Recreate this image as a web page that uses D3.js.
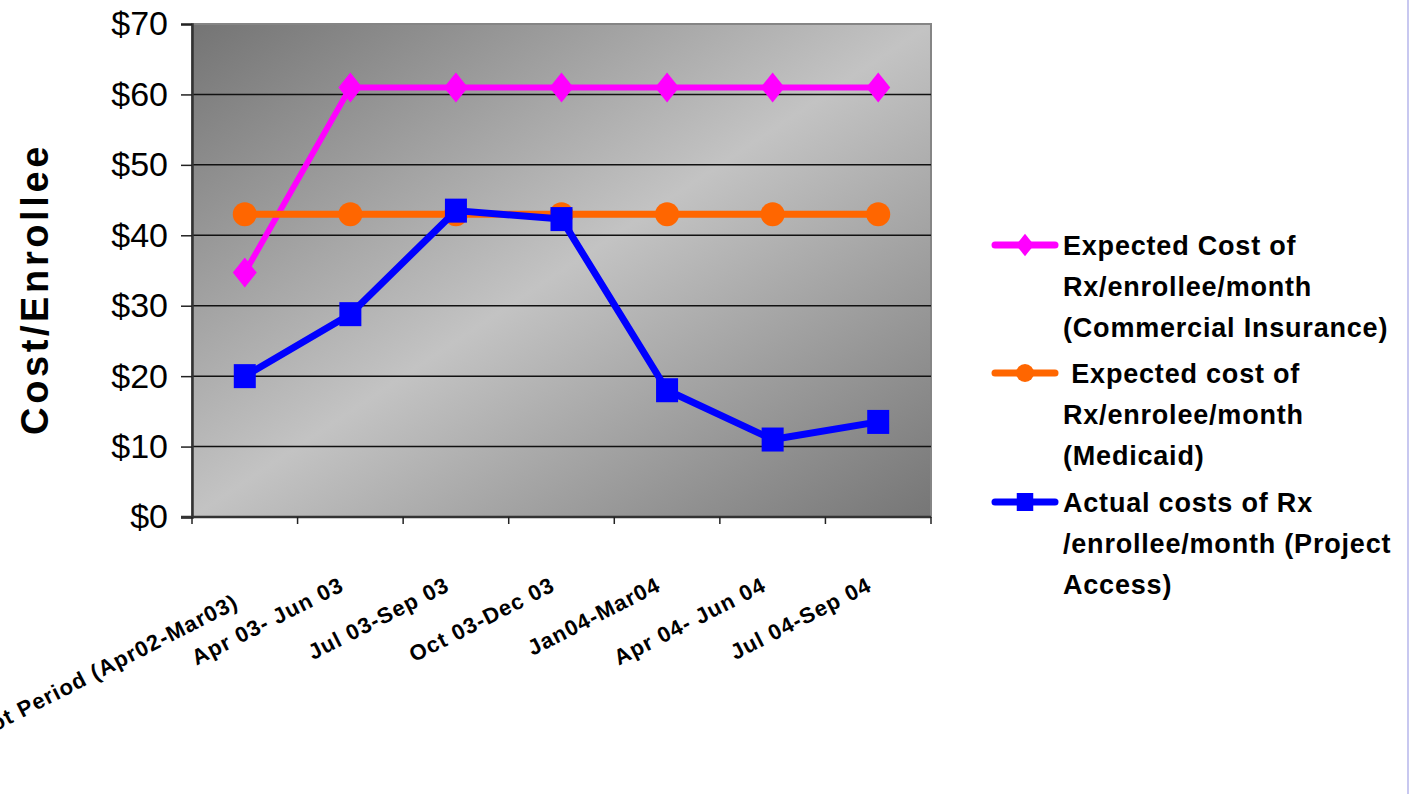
<!DOCTYPE html>
<html>
<head>
<meta charset="utf-8">
<script src="https://cdn.jsdelivr.net/npm/d3@7"></script>
<style>
  html, body { margin: 0; padding: 0; background: #fff; }
  svg { display: block; font-family: "Liberation Sans", Arial, sans-serif; }
</style>
</head>
<body>
<div id="chart"></div>
<script>
// categories (x axis)
var periods = ["Pilot Period (Apr02-Mar03)", "Apr 03- Jun 03", "Jul 03-Sep 03", "Oct 03-Dec 03",
               "Jan04-Mar04", "Apr 04- Jun 04", "Jul 04-Sep 04"];
// series values, $ per enrollee per month
var commercial = [34.7, 61, 61, 61, 61, 61, 61];
var medicaid   = [43, 43, 43, 43, 43, 43, 43];
var actual     = [20, 28.8, 43.5, 42.3, 18, 11, 13.5];
var yTicks = [0, 10, 20, 30, 40, 50, 60, 70];
var legendLabels = [
  ["Expected Cost of", "Rx/enrollee/month", "(Commercial Insurance)"],
  [" Expected cost of", "Rx/enrolee/month", "(Medicaid)"],
  ["Actual costs of Rx", "/enrollee/month (Project", "Access)"]
];

var width = 1410, height = 794;
var plot = {left: 192, top: 24, right: 931, bottom: 517};

var svg = d3.select("#chart").append("svg")
  .attr("width", width).attr("height", height);

// plot background gradient
var grad = svg.append("defs").append("linearGradient")
  .attr("id", "bg").attr("x1", 0).attr("y1", 0).attr("x2", 1).attr("y2", 1);
grad.append("stop").attr("offset", "0%").attr("stop-color", "#747474");
grad.append("stop").attr("offset", "50%").attr("stop-color", "#c3c3c3");
grad.append("stop").attr("offset", "100%").attr("stop-color", "#767676");

var x = d3.scaleBand().domain(periods).range([plot.left, plot.right]);
var y = d3.scaleLinear().domain([0, 70]).range([plot.bottom, plot.top]);

svg.append("rect")
  .attr("x", plot.left).attr("y", plot.top)
  .attr("width", plot.right - plot.left).attr("height", plot.bottom - plot.top)
  .attr("fill", "url(#bg)")
  .attr("stroke", "#858585").attr("stroke-width", 2);

// gridlines
svg.append("g").selectAll("line")
  .data(yTicks.filter(function (d) { return d > 0 && d < 70; }))
  .enter().append("line")
  .attr("x1", plot.left).attr("x2", plot.right)
  .attr("y1", function (d) { return y(d); }).attr("y2", function (d) { return y(d); })
  .attr("stroke", "#111").attr("stroke-width", 1.5);

// y axis
var yAxis = svg.append("g")
  .attr("transform", "translate(" + plot.left + ",0)")
  .call(d3.axisLeft(y).tickValues(yTicks).tickSize(11).tickPadding(13)
    .tickFormat(function (d) { return "$" + d; }));
yAxis.select(".domain").attr("stroke", "#333").attr("stroke-width", 2.5);
yAxis.selectAll(".tick line").attr("stroke", "#222").attr("stroke-width", 1.5);
yAxis.selectAll(".tick text")
  .attr("font-size", 34).attr("fill", "#000")
  .attr("font-family", "Liberation Sans, Arial, sans-serif");

// x axis (ticks between categories)
var xAxis = svg.append("g")
  .attr("transform", "translate(0," + plot.bottom + ")");
xAxis.append("line")
  .attr("x1", plot.left - 11).attr("x2", plot.right)
  .attr("stroke", "#333").attr("stroke-width", 2.5);
xAxis.selectAll(".xt")
  .data(periods.map(function (p) { return x(p); }).concat([plot.right]))
  .enter().append("line")
  .attr("class", "xt")
  .attr("x1", function (d) { return d; }).attr("x2", function (d) { return d; })
  .attr("y1", 0).attr("y2", 7)
  .attr("stroke", "#222").attr("stroke-width", 1.5);

svg.append("g").selectAll("text")
  .data(periods)
  .enter().append("text")
  .attr("transform", function (d, i) {
    var cx = x(d) + x.bandwidth() / 2 - 5;
    var cy = i === 0 ? 607 : 590;
    return "translate(" + cx + "," + cy + ") rotate(-27)";
  })
  .attr("text-anchor", "end")
  .attr("font-size", 22).attr("font-weight", "bold")
  .attr("letter-spacing", 1.1)
  .text(function (d) { return d; });

// y axis title
svg.append("text")
  .attr("transform", "translate(48,289) rotate(-90)")
  .attr("text-anchor", "middle")
  .attr("font-size", 38).attr("font-weight", "bold")
  .attr("letter-spacing", 3.6)
  .text("Cost/Enrollee");

// series
var series = [
  {values: commercial, color: "#ff00ff", width: 6, marker: "diamond"},
  {values: medicaid,   color: "#ff6600", width: 7, marker: "circle"},
  {values: actual,     color: "#0000ff", width: 7, marker: "square"}
];

function drawMarker(g, type, color) {
  if (type === "diamond") {
    g.append("path").attr("d", "M0,-15L12,0L0,15L-12,0Z").attr("fill", color);
  } else if (type === "circle") {
    g.append("circle").attr("r", 12).attr("fill", color);
  } else {
    g.append("rect").attr("x", -11).attr("y", -12).attr("width", 22).attr("height", 24).attr("fill", color);
  }
}

var line = d3.line()
  .x(function (d, i) { return x(periods[i]) + x.bandwidth() / 2; })
  .y(function (d) { return y(d); });

series.forEach(function (s) {
  var g = svg.append("g");
  g.append("path")
    .attr("d", line(s.values))
    .attr("fill", "none")
    .attr("stroke", s.color)
    .attr("stroke-width", s.width)
    .attr("stroke-linejoin", "round");
  g.selectAll(".m")
    .data(s.values)
    .enter().append("g")
    .attr("transform", function (d, i) {
      return "translate(" + (x(periods[i]) + x.bandwidth() / 2) + "," + y(d) + ")";
    })
    .each(function () { drawMarker(d3.select(this), s.marker, s.color); });
});

// legend
var entryTop = [255, 383, 512];
var legend = svg.append("g");
series.forEach(function (s, k) {
  var g = legend.append("g").attr("transform", "translate(0," + entryTop[k] + ")");
  g.append("line")
    .attr("x1", 995).attr("x2", 1055).attr("y1", -10).attr("y2", -10)
    .attr("stroke", s.color).attr("stroke-width", 7).attr("stroke-linecap", "round");
  var mk = g.append("g").attr("transform", "translate(1025,-10) scale(0.75)");
  drawMarker(mk, s.marker, s.color);
  g.selectAll("text")
    .data(legendLabels[k])
    .enter().append("text")
    .attr("x", 1063)
    .attr("y", function (d, i) { return i * 41; })
    .attr("font-size", 27).attr("font-weight", "bold")
    .attr("letter-spacing", 0.8)
    .attr("xml:space", "preserve")
    .style("white-space", "pre")
    .text(function (d) { return d; });
});

// right frame edge
svg.append("line")
  .attr("x1", 1408).attr("x2", 1408).attr("y1", 0).attr("y2", height)
  .attr("stroke", "#c8c8f0").attr("stroke-width", 2);
</script>
</body>
</html>
